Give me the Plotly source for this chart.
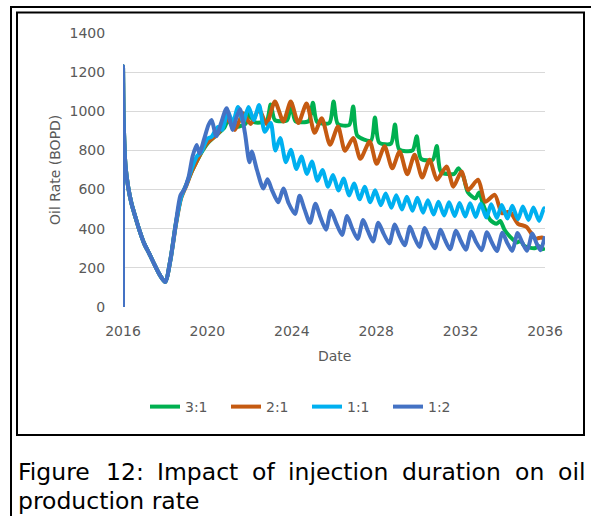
import pandas as pd
import plotly.graph_objects as go

W, H = 591, 516
PL, PR, PT, PB = 123, 545, 33, 307  # plot area in pixels

# ---------------- data (decimal years, oil rate BOPD) ----------------
START_YEARS = [2016.0, 2016.0, 2016.03, 2016.12, 2016.25, 2016.4, 2016.6, 2016.8, 2017.0,
               2017.28, 2017.5, 2017.75, 2018.0]
START_BOPD = [0, 1230, 960, 720, 610, 530, 455, 385, 325, 265, 215, 163, 128]

R31_YEARS = [2018.25, 2018.5, 2018.75, 2019.0, 2019.25, 2019.5, 2019.75, 2020.0, 2020.5,
             2020.8, 2021.0, 2021.2, 2021.8, 2022.0, 2022.2, 2022.8, 2023.0, 2023.2,
             2023.78, 2023.97, 2024.17, 2024.8, 2025.0, 2025.2, 2025.78, 2025.98, 2026.18,
             2026.72, 2026.91, 2027.11, 2027.75, 2027.94, 2028.14, 2028.7, 2028.89, 2029.09,
             2029.72, 2029.92, 2030.12, 2030.68, 2030.87, 2031.07, 2031.7, 2031.89, 2032.13,
             2032.35, 2032.7, 2032.88, 2033.08, 2033.4, 2033.7, 2033.88, 2034.08, 2034.34,
             2034.68, 2034.85, 2035.02, 2035.5, 2035.72, 2035.86, 2036.0]
R31_BOPD = [245, 425, 560, 625, 690, 745, 795, 835, 885,
            915, 960, 920, 935, 990, 945, 950, 1035, 955,
            955, 1045, 950, 950, 1043, 945, 940, 1050, 935,
            930, 1025, 875, 850, 968, 840, 835, 932, 805,
            800, 872, 758, 752, 822, 690, 680, 709, 667,
            585, 555, 585, 520, 445, 425, 440, 395, 360,
            330, 338, 312, 300, 310, 295, 300]

R21_YEARS = [2018.25, 2018.5, 2018.75, 2019.0, 2019.25, 2019.5, 2019.75, 2020.0, 2020.5,
             2020.95, 2021.3, 2021.7, 2022.05, 2022.45, 2022.8, 2023.2, 2023.6, 2023.95,
             2024.31, 2024.7, 2025.08, 2025.42, 2025.81, 2026.19, 2026.52, 2026.91, 2027.25,
             2027.69, 2028.02, 2028.4, 2028.76, 2029.11, 2029.47, 2029.82, 2030.18, 2030.53,
             2030.88, 2031.33, 2031.66, 2032.04, 2032.35, 2032.83, 2033.17, 2033.62, 2033.96,
             2034.33, 2034.72, 2035.12, 2035.54, 2035.85, 2036.0]
R21_BOPD = [240, 415, 555, 620, 690, 745, 800, 840, 885,
            960, 905, 990, 935, 1010, 935, 1050, 948, 1050,
            940, 1040, 890, 965, 829, 922, 798, 863, 757,
            846, 732, 821, 709, 795, 678, 778, 662, 752,
            650, 718, 615, 692, 598, 650, 538, 573, 479,
            487, 425, 410, 350, 355, 340]

R11_YEARS = [2018.25, 2018.5, 2018.75, 2019.0, 2019.3, 2019.5, 2019.7, 2020.0, 2020.2,
             2020.5, 2020.7, 2020.97, 2021.2, 2021.45, 2021.7, 2021.95, 2022.2, 2022.45,
             2022.72, 2023.0, 2023.22, 2023.45, 2023.72, 2023.95, 2024.22, 2024.45, 2024.72,
             2024.95, 2025.22, 2025.45, 2025.72, 2025.95, 2026.22, 2026.45, 2026.72, 2026.95,
             2027.22, 2027.45, 2027.72, 2027.95, 2028.22, 2028.45, 2028.72, 2028.95, 2029.22,
             2029.45, 2029.72, 2029.95, 2030.22, 2030.45, 2030.72, 2030.95, 2031.22, 2031.45,
             2031.72, 2031.95, 2032.22, 2032.45, 2032.72, 2032.95, 2033.22, 2033.45, 2033.72,
             2033.95, 2034.22, 2034.45, 2034.72, 2034.95, 2035.22, 2035.45, 2035.72, 2035.95,
             2036.0]
R11_BOPD = [240, 420, 560, 625, 720, 770, 790, 860, 870,
            920, 905, 1000, 940, 1022, 945, 1022, 955, 1032,
            895, 940, 800, 863, 740, 803, 705, 769, 680,
            743, 645, 700, 615, 674, 595, 657, 570, 631,
            550, 614, 535, 597, 520, 580, 507, 571, 498,
            563, 492, 558, 482, 546, 472, 538, 468, 535,
            465, 532, 462, 530, 460, 528, 457, 525, 455,
            521, 452, 517, 448, 513, 445, 508, 440, 504,
            500]

R12_YEARS = [2018.25, 2018.5, 2018.72, 2018.9, 2019.1, 2019.3, 2019.49, 2019.62, 2019.85,
             2020.05, 2020.2, 2020.42, 2020.65, 2020.91, 2021.2, 2021.35, 2021.55, 2021.78,
             2021.99, 2022.1, 2022.35, 2022.65, 2022.85, 2023.05, 2023.36, 2023.6, 2023.85,
             2024.15, 2024.37, 2024.6, 2024.86, 2025.12, 2025.35, 2025.62, 2025.85, 2026.1,
             2026.38, 2026.62, 2026.85, 2027.12, 2027.38, 2027.6, 2027.85, 2028.1, 2028.35,
             2028.62, 2028.88, 2029.1, 2029.35, 2029.6, 2029.8, 2030.05, 2030.3, 2030.52,
             2030.78, 2031.05, 2031.25, 2031.5, 2031.78, 2032.0, 2032.25, 2032.5, 2032.72,
             2033.0, 2033.25, 2033.47, 2033.72, 2033.98, 2034.2, 2034.45, 2034.7, 2034.92,
             2035.15, 2035.4, 2035.58, 2035.78, 2036.0]
R12_BOPD = [245, 425, 570, 600, 660, 770, 828, 785, 860,
            930, 955, 872, 940, 1015, 905, 960, 1010, 888,
            740, 795, 700, 605, 653, 600, 535, 606, 530,
            475, 568, 500, 430, 528, 460, 395, 492, 430,
            368, 465, 405, 348, 444, 390, 335, 430, 375,
            325, 422, 365, 315, 410, 358, 307, 404, 350,
            300, 395, 345, 295, 390, 340, 293, 386, 335,
            290, 382, 332, 286, 380, 330, 287, 378, 330,
            287, 376, 330, 290, 362]

SERIES = [
    ("3:1", R31_YEARS, R31_BOPD, "#00B050"),
    ("2:1", R21_YEARS, R21_BOPD, "#C55A11"),
    ("1:1", R11_YEARS, R11_BOPD, "#00B0F0"),
    ("1:2", R12_YEARS, R12_BOPD, "#4472C4"),
]

Y_TICKS = [0, 200, 400, 600, 800, 1000, 1200, 1400]
CAPTION_LINE1 = ["Figure", "12:", "Impact", "of", "injection", "duration", "on", "oil"]
CAPTION_LINE2 = "production rate"


def to_dates(years):
    base = pd.Timestamp("2016-01-01")
    return [base + pd.to_timedelta((y - 2016.0) * 365.25, unit="D") for y in years]


def px(x):
    return (x - PL) / (PR - PL)


def py(y):
    return (PB - y) / (PB - PT)


FONT = "DejaVu Sans, Verdana, sans-serif"
GREY = "#595959"

fig = go.Figure()
for name, yrs, vals, color in SERIES:
    fig.add_trace(go.Scatter(
        x=to_dates(START_YEARS + yrs), y=START_BOPD + vals, name=name, mode="lines",
        line=dict(color=color, width=4, shape="spline", smoothing=0.7),
    ))

fig.update_layout(
    width=W, height=H, autosize=False,
    margin=dict(l=PL, r=W - PR, t=PT, b=H - PB, pad=0),
    paper_bgcolor="white", plot_bgcolor="white",
    font=dict(family=FONT, color=GREY, size=14),
    showlegend=True,
    legend=dict(orientation="h", xref="container", yref="container",
                x=307 / W, xanchor="center", y=1 - 407 / H, yanchor="middle",
                font=dict(family=FONT, size=14, color=GREY),
                bgcolor="rgba(0,0,0,0)", traceorder="normal",
                entrywidth=36, entrywidthmode="pixels", itemwidth=30),
)
fig.update_xaxes(
    type="date", range=["2016-01-01", "2036-01-01"],
    tick0="2016-01-01", dtick="M48", tickformat="%Y",
    showgrid=False, zeroline=False, showline=False,
    ticks="outside", ticklen=11, tickcolor="rgba(0,0,0,0)",
    tickfont=dict(family=FONT, size=14, color=GREY), fixedrange=True,
)
fig.update_yaxes(
    range=[0, 1400], tickvals=Y_TICKS, showgrid=True, gridcolor="#D9D9D9", gridwidth=1,
    zeroline=False, showline=False,
    ticks="outside", ticklen=14, tickcolor="rgba(0,0,0,0)",
    tickfont=dict(family=FONT, size=14, color=GREY), fixedrange=True,
)

annotations = [
    dict(text="Oil Rate (BOPD)", x=px(55), y=py(170), xref="paper", yref="paper",
         showarrow=False, textangle=-90, font=dict(family=FONT, size=14, color=GREY),
         xanchor="center", yanchor="middle"),
    dict(text="Date", x=px(334), y=py(356), xref="paper", yref="paper",
         showarrow=False, font=dict(family=FONT, size=14, color=GREY),
         xanchor="center", yanchor="middle"),
]
CAP_X = [18, 105.6, 157, 251.9, 288.2, 402.2, 514.7, 557.6]
for word, cx in zip(CAPTION_LINE1, CAP_X):
    annotations.append(dict(text=word, x=px(cx - 2), y=py(472), xref="paper", yref="paper",
                            showarrow=False, xanchor="left", yanchor="middle",
                            font=dict(family=FONT, size=23.5, color="black")))
annotations.append(dict(text=CAPTION_LINE2, x=px(16), y=py(501), xref="paper", yref="paper",
                        showarrow=False, xanchor="left", yanchor="middle",
                        font=dict(family=FONT, size=23.5, color="black")))
fig.update_layout(annotations=annotations)

shapes = [
    dict(type="rect", xref="paper", yref="paper", x0=px(11), x1=px(620), y0=py(7), y1=py(560),
         line=dict(color="black", width=2), fillcolor="rgba(0,0,0,0)", layer="above"),
    dict(type="rect", xref="paper", yref="paper", x0=px(17), x1=px(584), y0=py(12.5), y1=py(435),
         line=dict(color="black", width=2), fillcolor="rgba(0,0,0,0)", layer="above"),
]
fig.update_layout(shapes=shapes)

fig.write_html("out.html")
